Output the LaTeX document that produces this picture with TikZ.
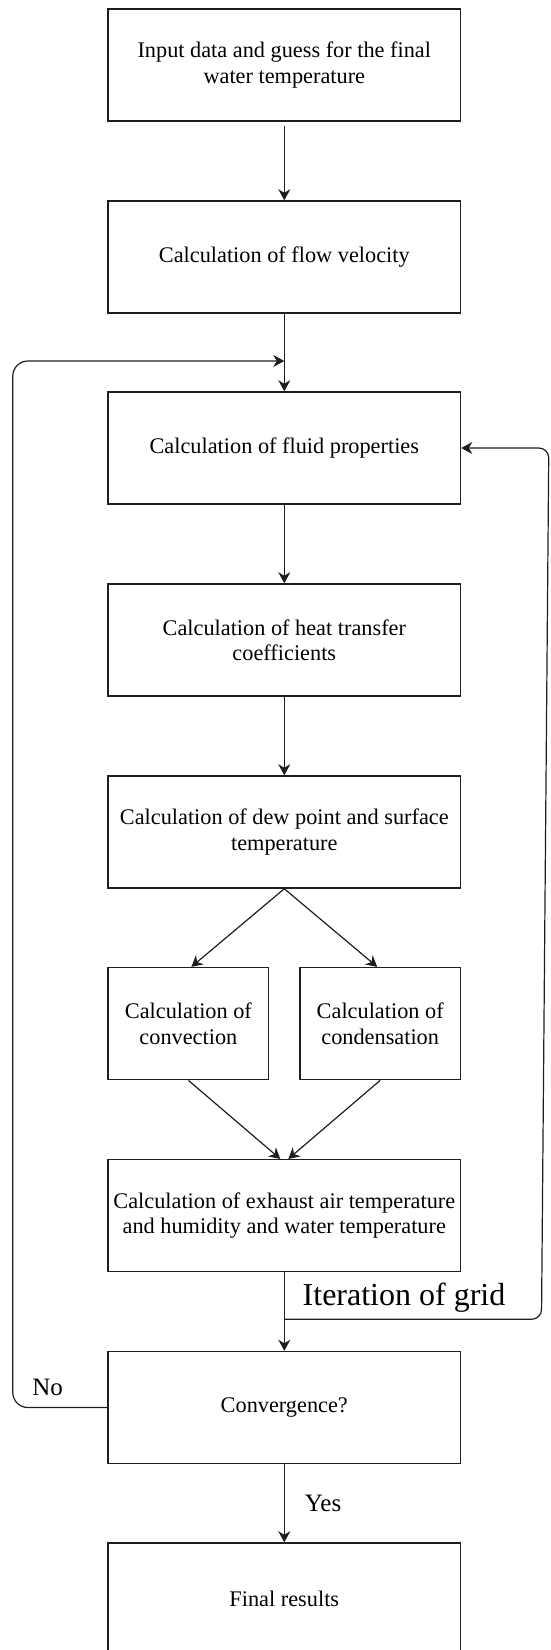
\documentclass[tikz,border=0pt]{standalone}
\usepackage{fontspec}
\setmainfont{Liberation Serif}
\usetikzlibrary{arrows.meta}
\definecolor{Line}{RGB}{30,30,30}

\begin{document}
\begin{tikzpicture}[x=1pt, y=-1pt]
	\tikzstyle{block}=[draw=Line, line width=1.5pt, shape=rectangle, minimum width=352.5pt, minimum height=112pt, inner sep=2pt, align=center, font=\fontsize{22.3}{25.5}\selectfont];
	\tikzstyle{half}=[block, minimum width=160.5pt];
	\tikzstyle{flow}=[draw=Line, line width=1.2pt, -{Stealth[length=11pt, width=12pt, inset=3.5pt]}];
	\tikzstyle{tag}=[inner sep=0pt, anchor=base, font=\fontsize{25}{28}\selectfont];
	\useasboundingbox (0,0) rectangle (550,1650);
	\node [block] (input) at (284.3, 65) {Input data and guess for the final\\water temperature};
	\node [block] (velocity) at (284.3, 257) {Calculation of flow velocity};
	\node [block] (fluid) at (284.3, 448) {Calculation of fluid properties};
	\node [block] (heat) at (284.3, 640) {Calculation of heat transfer\\coefficients};
	\node [block] (dew) at (284.3, 832) {Calculation of dew point and surface\\temperature};
	\node [half] (convection) at (188.4, 1023.6) {Calculation of\\convection};
	\node [half] (condensation) at (380.2, 1023.6) {Calculation of\\condensation};
	\node [block] (exhaust) at (284.3, 1215.7) {Calculation of exhaust air temperature\\and humidity and water temperature};
	\node [block] (converge) at (284.3, 1407.5) {Convergence?};
	\node [block] (results) at (284.3, 1599) {Final results};
	\coordinate (merge) at (284.3, 361);
	\coordinate (split) at (284.3, 1319.3);
	% main line
	\draw [flow, shorten <=4pt] (input) -- (velocity);
	\draw [flow] (velocity) -- (fluid);
	\draw [flow] (fluid) -- (heat);
	\draw [flow] (heat) -- (dew);
	\draw [flow] (dew.south) -- ([xshift=3pt]convection.north);
	\draw [flow] (dew.south) -- ([xshift=-3pt]condensation.north);
	\draw [flow] (convection.south) -- ([xshift=-4pt]exhaust.north);
	\draw [flow] (condensation.south) -- ([xshift=4pt]exhaust.north);
	\draw [flow] (exhaust) -- (converge);
	\draw [flow] (converge) -- node [tag, anchor=base west, xshift=20pt, yshift=-8pt] {Yes} (results);
	% loops
	\draw [flow, rounded corners=10pt] (split) -- (541.5, 1319.3) -- (548.8, 448) -- (fluid.east);
	\node [tag, font=\fontsize{32}{36}\selectfont] (grid) at (404, 1305) {Iteration of grid};
	\draw [flow, rounded corners=15pt] (converge.west) -- (12.8, 1407.5) -- (12.8, 361) -- (merge);
	\node [tag] (no) at (47.7, 1395) {No};
\end{tikzpicture}
\end{document}
